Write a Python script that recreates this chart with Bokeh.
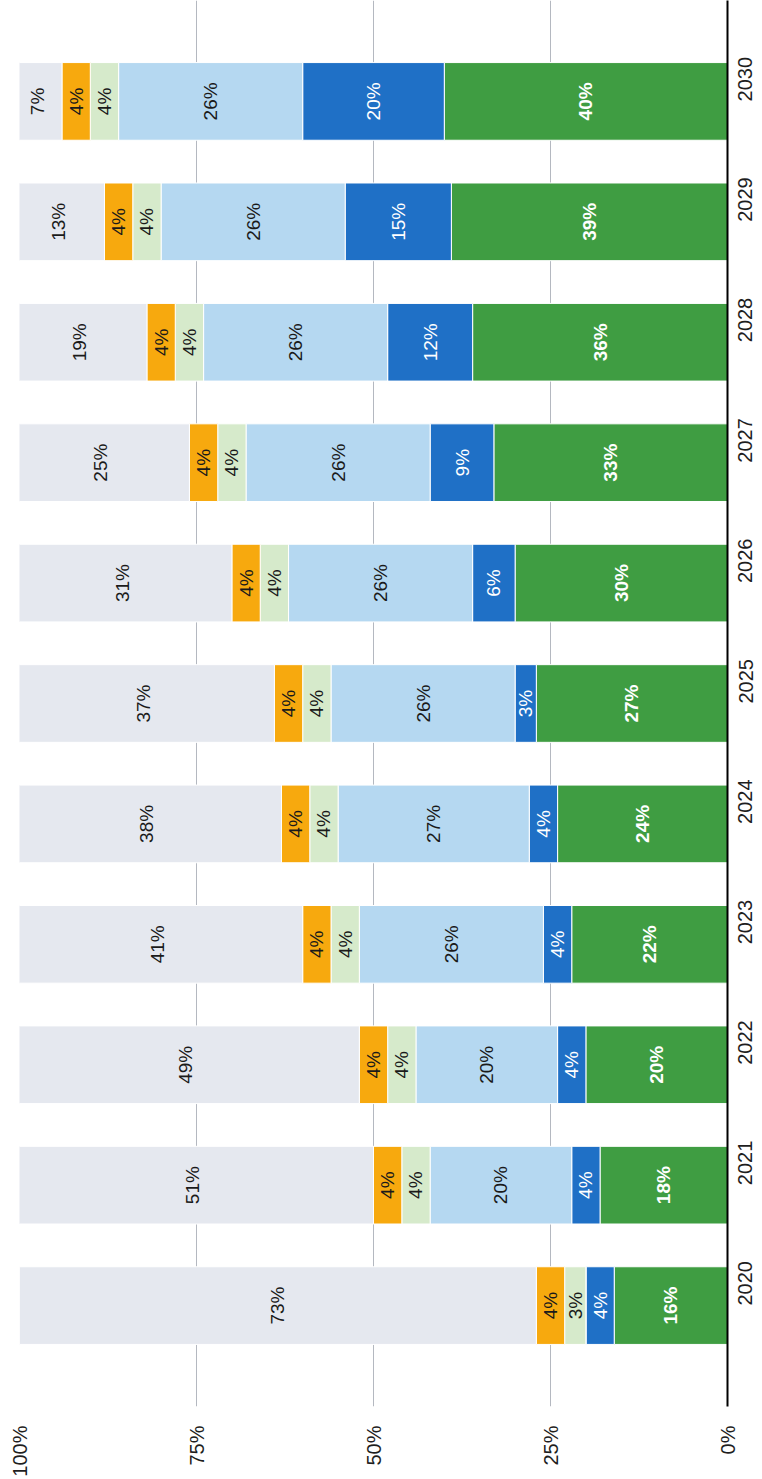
import math
from bokeh.plotting import figure
from bokeh.models import ColumnDataSource, FactorRange, Range1d, FixedTicker
from bokeh.core.properties import value
from bokeh.embed import file_html
from bokeh.resources import INLINE

years = ["2020", "2021", "2022", "2023", "2024", "2025", "2026", "2027", "2028", "2029", "2030"]
green = [16, 18, 20, 22, 24, 27, 30, 33, 36, 39, 40]
dark_blue = [4, 4, 4, 4, 4, 3, 6, 9, 12, 15, 20]
light_blue = [0, 20, 20, 26, 27, 26, 26, 26, 26, 26, 26]
light_green = [3, 4, 4, 4, 4, 4, 4, 4, 4, 4, 4]
orange = [4, 4, 4, 4, 4, 4, 4, 4, 4, 4, 4]
gray = [73, 51, 49, 41, 38, 37, 31, 25, 19, 13, 7]

tick_values = [0, 25, 50, 75, 100]
tick_labels = ["0%", "25%", "50%", "75%", "100%"]

series = [
    (green, "#3f9d42", "white", "bold"),
    (dark_blue, "#1f70c6", "white", "normal"),
    (light_blue, "#b5d8f1", "#1a1a1a", "normal"),
    (light_green, "#d6eacb", "#1a1a1a", "normal"),
    (orange, "#f7a90e", "#1a1a1a", "normal"),
    (gray, "#e5e8ef", "#1a1a1a", "normal"),
]

FONT = "Liberation Sans"

p = figure(
    width=762, height=1479,
    x_range=Range1d(100, 0),
    y_range=FactorRange(*years, range_padding=0.338, range_padding_units="absolute"),
    y_axis_location="right",
    output_backend="svg", toolbar_location=None,
    min_border_left=19, min_border_top=0, min_border_bottom=72, min_border_right=0,
)
p.outline_line_color = None
p.background_fill_color = "white"

cum = [0.0] * len(years)
for vals, fill, tcolor, tstyle in series:
    left = cum[:]
    right = [a + b for a, b in zip(cum, vals)]
    src = ColumnDataSource(dict(y=years, left=left, right=right))
    p.hbar(y="y", left="left", right="right", height=0.645, source=src,
           fill_color=fill, line_color="white", line_width=1)
    lx, ly, lt = [], [], []
    for yr, l, r, v in zip(years, left, right, vals):
        if v > 0:
            lx.append((l + r) / 2)
            ly.append(yr)
            lt.append(f"{v}%")
    lsrc = ColumnDataSource(dict(x=lx, y=ly, text=lt))
    p.text(x="x", y="y", text="text", source=lsrc, angle=math.pi / 2,
           text_align="center", text_baseline="middle",
           text_font=value(FONT), text_font_size="19px",
           text_font_style=tstyle, text_color=tcolor)
    cum = right

# x axis (percent), shown at bottom
xa = p.xaxis[0]
xa.ticker = FixedTicker(ticks=tick_values)
xa.major_label_overrides = {v: t for v, t in zip(tick_values, tick_labels)}
xa.major_label_orientation = math.pi / 2
xa.axis_line_color = None
xa.major_tick_line_color = None
xa.minor_tick_line_color = None
xa.major_label_standoff = 13
xa.major_label_text_font = FONT
xa.major_label_text_font_size = "20px"
xa.major_label_text_color = "#1e1e1e"

# y axis (years), on the right
ya = p.yaxis[0]
ya.major_label_orientation = math.pi / 2
ya.axis_line_color = "black"
ya.axis_line_width = 2
ya.major_tick_line_color = None
ya.minor_tick_line_color = None
ya.major_label_standoff = 12
ya.major_label_text_font = FONT
ya.major_label_text_font_size = "20px"
ya.major_label_text_color = "#1e1e1e"

p.xgrid.ticker = FixedTicker(ticks=tick_values)
p.xgrid.grid_line_color = "#b4b8c0"
p.xgrid.grid_line_width = 1
p.ygrid.grid_line_color = None

open("out.html", "w").write(file_html(p, INLINE))
